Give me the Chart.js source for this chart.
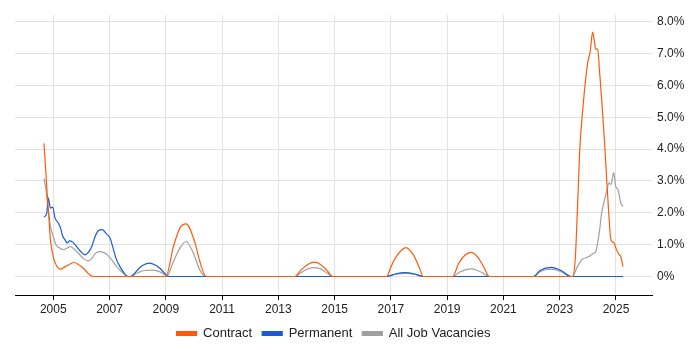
<!DOCTYPE html>
<html><head>
<meta charset="utf-8">
<script src="https://cdn.jsdelivr.net/npm/chart.js@4"></script>
<style>html,body{margin:0;padding:0;background:#fff}#wrap{width:700px;height:350px}</style>
</head><body>
<div id="wrap"><canvas id="c" width="700" height="350"></canvas></div>
<script>
const xTicks = [2005, 2007, 2009, 2011, 2013, 2015, 2017, 2019, 2021, 2023, 2025];
const yTicks = [0, 1, 2, 3, 4, 5, 6, 7, 8];

const contractYears = [2004.67, 2004.73, 2004.79, 2004.85, 2004.9, 2005.0, 2005.12, 2005.26, 2005.42, 2005.57, 2005.74, 2005.89, 2006.07, 2006.24, 2006.4,
  2009.0, 2009.27, 2009.5, 2009.72, 2010.04, 2010.21, 2010.43,
  2013.59, 2013.8, 2014.05, 2014.27, 2014.5, 2014.72, 2014.93,
  2016.85, 2017.0, 2017.15, 2017.35, 2017.53, 2017.8, 2018.0, 2018.15,
  2019.2, 2019.4, 2019.62, 2019.85, 2020.08, 2020.3, 2020.5,
  2023.45, 2023.55, 2023.63, 2023.72, 2023.82, 2023.93, 2024.02, 2024.08, 2024.17, 2024.23, 2024.28, 2024.35, 2024.41, 2024.49, 2024.58, 2024.67, 2024.75, 2024.82, 2024.92, 2025.01, 2025.1, 2025.17, 2025.25];
const contractValues = [4.18, 3.36, 2.52, 1.78, 1.15, 0.62, 0.33, 0.23, 0.31, 0.38, 0.44, 0.38, 0.26, 0.1, 0,
  0, 0.94, 1.52, 1.65, 1.05, 0.47, 0,
  0, 0.2, 0.38, 0.45, 0.38, 0.2, 0,
  0, 0.3, 0.57, 0.8, 0.91, 0.68, 0.3, 0,
  0, 0.4, 0.66, 0.76, 0.62, 0.3, 0,
  0, 0.52, 2.1, 4.1, 5.25, 6.25, 6.83, 7.04, 7.67, 7.4, 7.14, 7.14, 6.51, 5.57, 4.41, 3.04, 1.89, 1.15, 1.07, 0.86, 0.7, 0.62, 0.31];

const permanentYears = [2004.67, 2004.77, 2004.82, 2004.9, 2004.98, 2005.06, 2005.18, 2005.26, 2005.33, 2005.42, 2005.5, 2005.57, 2005.69, 2005.81, 2005.95, 2006.13, 2006.24, 2006.37, 2006.48, 2006.6, 2006.74, 2006.87, 2007.02, 2007.11, 2007.23, 2007.37, 2007.51, 2007.63,
  2007.75, 2007.84, 2008.02, 2008.2, 2008.44, 2008.62, 2008.79, 2008.94, 2009.09,
  2016.85, 2017.15, 2017.5, 2017.85, 2018.15,
  2022.07, 2022.3, 2022.7, 2023.05, 2023.4, 2025.25];
const permanentValues = [1.87, 1.99, 2.47, 2.15, 2.18, 1.84, 1.68, 1.52, 1.28, 1.15, 1.05, 1.12, 1.08, 0.96, 0.81, 0.68, 0.75, 0.94, 1.24, 1.44, 1.47, 1.36, 1.2, 0.94, 0.57, 0.31, 0.12, 0,
  0, 0.05, 0.23, 0.36, 0.42, 0.36, 0.26, 0.12, 0,
  0, 0.08, 0.12, 0.08, 0,
  0, 0.19, 0.29, 0.19, 0, 0];

const allYears = [2004.67, 2004.74, 2004.82, 2004.9, 2005.0, 2005.1, 2005.24, 2005.36, 2005.48, 2005.59, 2005.71, 2005.89, 2006.07, 2006.24, 2006.37, 2006.48, 2006.66, 2006.8, 2006.92, 2007.08, 2007.25, 2007.43, 2007.61, 2007.7,
  2008.0, 2008.25, 2008.5, 2008.75, 2008.95, 2009.03, 2009.27, 2009.5, 2009.72, 2009.98, 2010.21, 2010.43,
  2013.59, 2013.8, 2014.05, 2014.27, 2014.5, 2014.72, 2014.93,
  2016.85, 2017.15, 2017.5, 2017.85, 2018.15,
  2019.2, 2019.45, 2019.85, 2020.2, 2020.5,
  2022.07, 2022.3, 2022.7, 2023.05, 2023.4,
  2023.45, 2023.6, 2023.78, 2024.02, 2024.2, 2024.28, 2024.41, 2024.49, 2024.58, 2024.67, 2024.75, 2024.82, 2024.92, 2024.99, 2025.07, 2025.17, 2025.25];
const allValues = [3.07, 2.73, 2.1, 1.57, 1.26, 0.99, 0.89, 0.84, 0.89, 0.94, 0.89, 0.73, 0.57, 0.49, 0.57, 0.71, 0.78, 0.75, 0.68, 0.52, 0.31, 0.15, 0.03, 0,
  0.12, 0.19, 0.2, 0.16, 0.06, 0, 0.47, 0.89, 1.1, 0.73, 0.2, 0,
  0, 0.12, 0.24, 0.28, 0.24, 0.12, 0,
  0, 0.07, 0.1, 0.07, 0,
  0, 0.14, 0.24, 0.14, 0,
  0, 0.15, 0.23, 0.15, 0,
  0, 0.26, 0.52, 0.62, 0.73, 0.78, 1.41, 1.99, 2.36, 2.68, 2.94, 2.89, 3.26, 2.83, 2.73, 2.31, 2.2];

function pts(xs, ys) { return xs.map((x, i) => ({ x: x, y: ys[i] })); }

Chart.defaults.font.family = "'Liberation Sans', Arial, sans-serif";
Chart.defaults.font.size = 12;
Chart.defaults.color = '#333';

const common = { pointRadius: 0, borderWidth: 1.2, fill: false, cubicInterpolationMode: 'monotone' };

new Chart(document.getElementById('c'), {
  type: 'line',
  data: {
    datasets: [
      Object.assign({ label: 'Contract', data: pts(contractYears, contractValues), borderColor: '#ff5a0a', backgroundColor: '#ff5a0a' }, common),
      Object.assign({ label: 'Permanent', data: pts(permanentYears, permanentValues), borderColor: '#1a5ad8', backgroundColor: '#1a5ad8' }, common),
      Object.assign({ label: 'All Job Vacancies', data: pts(allYears, allValues), borderColor: '#a0a0a0', backgroundColor: '#a0a0a0' }, common)
    ]
  },
  options: {
    responsive: false,
    animation: false,
    layout: { padding: { left: 15, top: 15, right: 0, bottom: 0 } },
    scales: {
      x: {
        type: 'linear', min: 2003.64, max: 2026.28,
        afterBuildTicks: s => { s.ticks = xTicks.map(v => ({ value: v })); },
        afterFit: s => { s.height = 22; },
        ticks: { callback: v => String(v), padding: 2, maxRotation: 0, color: '#222' },
        grid: { color: '#e2e2e2', tickColor: '#000', tickLength: 5 },
        border: { color: '#000', width: 1 }
      },
      y: {
        position: 'right', min: -0.58, max: 8.21,
        afterBuildTicks: s => { s.ticks = yTicks.map(v => ({ value: v })); },
        afterFit: s => { s.width = 48; },
        ticks: { callback: v => v === 0 ? '0%' : v.toFixed(1) + '%', padding: 5, color: '#222' },
        grid: { drawTicks: false, color: '#e2e2e2' },
        border: { display: false }
      }
    },
    plugins: {
      legend: { position: 'bottom', fullSize: false, labels: { boxWidth: 20, boxHeight: 4, padding: 10, color: '#222', font: { size: 13 } } },
      tooltip: { enabled: false }
    }
  }
});
</script>
</body></html>
